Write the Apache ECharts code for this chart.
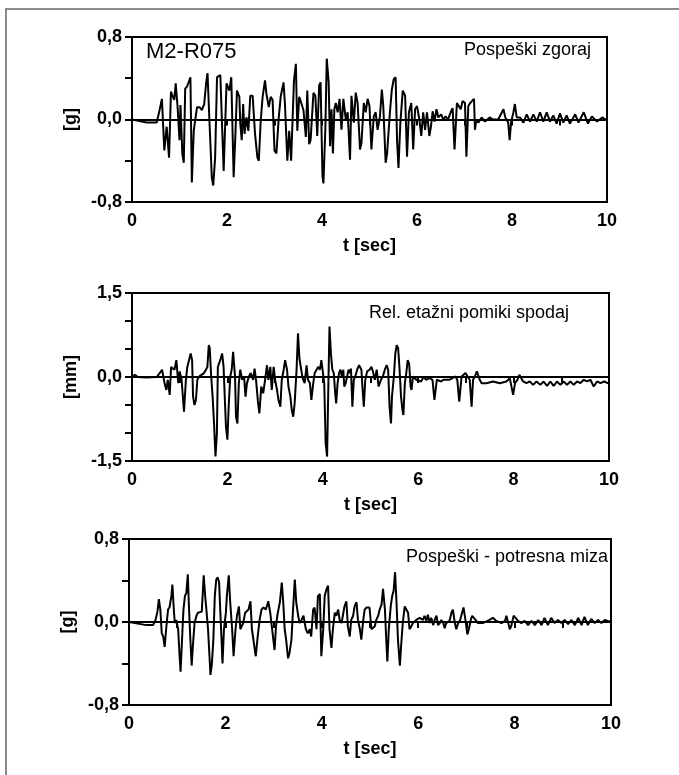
<!DOCTYPE html>
<html>
<head>
<meta charset="utf-8">
<script src="https://cdn.jsdelivr.net/npm/echarts@6/dist/echarts.min.js"></script>
<style>html,body{margin:0;padding:0;background:#fff}#c{width:679px;height:775px}</style>
</head>
<body>
<div id="c"></div>
<script>
// Time axis ticks (s)
const timeTicks = [0, 2, 4, 6, 8, 10];
// Panel titles
const titles = ['Pospeški zgoraj', 'Rel. etažni pomiki spodaj', 'Pospeški - potresna miza'];
const specimen = 'M2-R075';
// Panel 1: accelerations at top [g] -> [t, value]
const accTop = [
[0,0],[0.31,-0.03],[0.52,-0.03],[0.58,0.09],[0.63,0.20],[0.68,-0.30],[0.73,-0.07],[0.78,-0.37],[0.82,0.27],[0.86,0.22],
[0.89,0.19],[0.92,0.35],[0.96,0.12],[1.00,-0.20],[1.02,0.14],[1.06,-0.33],[1.09,-0.42],[1.12,0.30],[1.16,0.32],[1.20,0.33],
[1.23,0.41],[1.26,-0.61],[1.30,-0.11],[1.32,-0.04],[1.37,0.12],[1.42,0.12],[1.47,0.09],[1.52,0.15],[1.56,0.35],[1.59,0.45],
[1.63,-0.01],[1.68,-0.56],[1.71,-0.64],[1.75,-0.37],[1.79,0.41],[1.83,0.42],[1.86,0.43],[1.90,-0.11],[1.93,-0.50],[1.99,0.35],
[2.02,0.35],[2.05,0.28],[2.09,0.41],[2.14,-0.56],[2.18,-0.11],[2.21,0.28],[2.26,0.22],[2.28,-0.04],[2.31,-0.20],[2.34,0.15],
[2.37,-0.14],[2.41,0.02],[2.45,-0.11],[2.49,0.23],[2.54,0.23],[2.59,-0.14],[2.64,-0.37],[2.67,-0.40],[2.71,-0.01],[2.75,0.22],
[2.80,0.38],[2.83,0.25],[2.88,0.12],[2.92,0.22],[2.96,0.19],[3.00,-0.30],[3.04,-0.33],[3.09,0.02],[3.13,0.22],[3.19,0.36],
[3.22,0.15],[3.27,-0.40],[3.31,-0.11],[3.35,-0.40],[3.41,0.38],[3.45,0.54],[3.48,-0.11],[3.52,0.22],[3.57,0.15],[3.61,0.09],
[3.66,-0.17],[3.69,0.28],[3.73,-0.24],
[3.76,-0.20],[3.82,0.26],[3.86,0.23],[3.90,-0.16],[3.94,0.33],[3.97,0.36],[4.01,-0.55],[4.03,-0.62],[4.07,-0.10],[4.10,0.59],
[4.14,0.36],[4.17,-0.26],[4.20,0.10],[4.23,-0.33],[4.26,0.10],[4.29,0.16],[4.33,0.07],[4.37,0.20],[4.41,-0.10],[4.45,0.20],
[4.50,0],[4.54,0.07],[4.59,-0.39],[4.62,0.23],[4.67,-0.03],[4.71,0.26],[4.75,0.16],[4.80,-0.29],[4.83,-0.23],[4.88,0.16],
[4.92,0.07],[4.96,0.20],[5.00,0.13],[5.04,-0.29],[5.09,0.03],[5.13,0.07],[5.17,-0.10],[5.22,0.03],[5.26,0.29],[5.29,0.13],
[5.34,-0.42],[5.37,-0.33],[5.43,0.07],[5.47,0.29],[5.51,0.39],[5.55,0.41],[5.58,-0.20],[5.61,-0.47],[5.65,-0.03],[5.70,0.28],
[5.75,0.23],[5.79,-0.36],[5.83,0.07],[5.88,0.16],[5.92,-0.29],[5.96,0.10],[6.00,0.13],[6.05,0],[6.09,-0.16],[6.13,0.07],
[6.17,-0.10],[6.21,0.07],[6.26,-0.16],[6.29,-0.08],[6.33,0.08],[6.37,-0.02],[6.41,0.10],[6.45,0.02],[6.51,0.05],[6.55,0],
[6.60,0.03],[6.65,0],[6.71,0.07],[6.75,0.11],[6.79,-0.29],[6.84,0.16],[6.88,0.16],[6.92,0.10],[6.96,0.18],[7.01,0.16],
[7.04,-0.36],[7.08,0.13],[7.12,0.16],[7.16,0.18],[7.20,0.20],[7.22,-0.10],[7.25,0],[7.29,-0.03],[7.36,0.02],[7.43,-0.02],
[7.53,0.02],[7.60,0],[7.71,0],[7.82,0.10],[7.86,0.02],[7.92,-0.03],[7.95,-0.20],[7.98,-0.03],[8.03,0.07],[8.06,0.15],
[8.10,0.02],[8.17,0.02],[8.24,-0.03],[8.31,0.05],[8.38,-0.02],[8.45,0.05],[8.52,-0.02],[8.59,0.07],[8.66,-0.02],[8.73,0.07],
[8.80,-0.02],[8.87,0.04],[8.94,-0.04],[9.01,0.06],[9.08,-0.03],[9.15,0.04],[9.22,-0.04],[9.33,0.05],[9.40,-0.03],[9.51,0.07],
[9.60,-0.04],[9.68,0.03],[9.79,-0.02],[9.90,0.02],[10.0,-0.01]
];
// Panel 2: relative storey displacements bottom [mm]
const dispBottom = [
[0,0],[0.06,0.04],[0.12,0],[0.30,-0.01],[0.52,0],[0.58,0.07],[0.63,0.13],[0.66,0.15],[0.69,-0.14],[0.72,-0.23],
[0.75,-0.05],[0.79,-0.32],[0.82,0.18],[0.86,0.21],[0.89,0.13],[0.93,0.30],[0.97,-0.11],[1.00,0.10],[1.04,-0.05],[1.09,-0.62],
[1.13,-0.05],[1.16,0.18],[1.19,0.21],[1.23,0.42],[1.26,0.30],[1.28,-0.35],[1.31,-0.50],[1.34,-0.41],[1.37,-0.05],[1.41,0.01],
[1.45,0.04],[1.51,0.07],[1.55,0.13],[1.58,0.18],[1.61,0.57],[1.63,0.51],[1.66,0.01],[1.69,-0.35],[1.72,-0.83],[1.75,-1.42],
[1.78,-1.01],[1.80,0.18],[1.85,0.30],[1.89,0.42],[1.92,0.18],[1.95,-0.47],[1.97,-0.89],[2.00,-1.12],[2.03,-0.47],[2.06,0.01],
[2.09,0.13],[2.12,0.45],[2.16,0.01],[2.18,-0.71],[2.21,-0.83],[2.24,-0.11],[2.27,0.13],[2.31,-0.05],[2.35,0.01],[2.38,-0.35],
[2.41,-0.11],[2.45,0.01],[2.49,0.07],[2.54,-0.05],[2.57,0.15],[2.60,-0.05],[2.64,-0.44],[2.67,-0.65],[2.71,-0.17],[2.75,-0.29],
[2.79,-0.05],[2.83,0.21],[2.86,-0.05],[2.90,0.18],[2.93,-0.23],[2.97,0.18],[3.00,-0.05],[3.04,-0.23],[3.07,-0.41],[3.11,-0.53],
[3.14,-0.05],[3.18,0.13],[3.21,0.30],[3.25,0.13],[3.28,-0.17],[3.32,-0.35],[3.35,-0.59],[3.38,-0.71],[3.41,-0.47],[3.45,0.13],
[3.48,0.78],[3.51,0.33],[3.54,0.36],[3.57,0.01],[3.59,-0.05],[3.62,-0.11],[3.66,0.21],[3.69,-0.05],[3.73,-0.11],
[3.76,-0.41],[3.80,-0.11],[3.83,0.07],[3.87,0.13],[3.90,0.18],[3.94,0.13],[3.97,0.30],[4.00,0.33],[4.03,-0.11],[4.06,-1.18],
[4.09,-1.42],[4.12,0.01],[4.14,0.90],[4.17,0.42],[4.20,0.13],[4.23,0.07],[4.26,-0.29],[4.28,-0.47],[4.31,-0.11],[4.34,0.07],
[4.37,0.13],[4.40,0.01],[4.43,0.13],[4.45,-0.17],[4.48,-0.11],[4.51,0.01],[4.54,0.13],[4.57,0.07],[4.59,0.15],[4.62,-0.53],
[4.65,-0.05],[4.68,0.01],[4.72,0.13],[4.76,0.21],[4.81,0.13],[4.83,-0.17],[4.86,-0.53],[4.89,-0.05],[4.93,0.10],[4.98,0.13],
[5.02,0.18],[5.05,0.10],[5.09,-0.05],[5.13,0.13],[5.17,-0.17],[5.22,-0.05],[5.26,0.01],[5.30,0.13],[5.34,0.21],[5.37,0.13],
[5.40,-0.53],[5.43,-0.83],[5.45,-0.35],[5.49,0.01],[5.52,0.42],[5.55,0.57],[5.58,0.51],[5.61,0.13],[5.64,-0.35],[5.67,-0.59],
[5.69,-0.68],[5.72,-0.11],[5.75,0.07],[5.78,0.30],[5.81,0.24],[5.84,-0.17],[5.86,-0.23],[5.89,0.01],[5.92,0.01],[5.96,-0.05],
[6.00,-0.02],[6.06,-0.08],[6.12,0.01],[6.16,-0.05],[6.20,-0.05],[6.24,-0.02],[6.30,-0.05],[6.34,-0.41],[6.39,-0.05],[6.43,-0.02],
[6.48,-0.08],[6.53,-0.05],[6.58,-0.05],[6.65,-0.05],[6.72,-0.02],[6.78,0.01],[6.82,-0.05],[6.86,-0.44],[6.91,0.01],[6.95,0.04],
[6.99,0.07],[7.03,0.10],[7.08,-0.05],[7.12,-0.53],[7.15,-0.05],[7.19,0.01],[7.23,0.10],[7.26,0.13],[7.29,-0.05],[7.33,-0.11],
[7.43,-0.11],[7.57,-0.08],[7.71,-0.11],[7.85,-0.08],[7.92,-0.02],[7.96,0.01],[7.99,-0.32],[8.03,-0.11],[8.08,-0.05],[8.12,0.04],
[8.15,0.01],[8.20,-0.08],[8.27,-0.11],[8.34,-0.08],[8.41,-0.14],[8.48,-0.08],[8.56,-0.14],[8.63,-0.08],[8.70,-0.16],[8.77,-0.08],
[8.84,-0.16],[8.91,-0.08],[8.98,-0.14],[9.05,-0.08],[9.12,-0.14],[9.19,-0.08],[9.26,-0.14],[9.33,-0.08],[9.40,-0.11],[9.47,-0.05],
[9.54,-0.08],[9.61,-0.05],[9.68,-0.17],[9.75,-0.08],[9.82,-0.11],[9.90,-0.08],[9.97,-0.11],[10.0,-0.10]
];
// Panel 3: shaking table accelerations [g]
const accTable = [
[0,0],[0.36,-0.03],[0.50,-0.03],[0.55,0.02],[0.59,0.10],[0.62,0.22],[0.65,0.12],[0.68,-0.11],[0.71,-0.14],[0.74,-0.24],
[0.77,-0.07],[0.81,0.12],[0.84,0.14],[0.88,0.25],[0.90,0.36],[0.93,0.12],[0.95,-0.01],[0.98,0.02],[1.02,-0.07],[1.05,-0.33],
[1.07,-0.48],[1.11,-0.07],[1.13,0.12],[1.16,0.25],[1.19,0.28],[1.22,0.46],[1.24,0.19],[1.27,-0.14],[1.30,-0.42],[1.33,-0.20],
[1.36,-0.01],[1.40,0.06],[1.43,0.09],[1.47,0.10],[1.51,0.10],[1.55,0.45],[1.58,0.25],[1.60,0.15],[1.64,-0.07],[1.67,-0.33],
[1.69,-0.51],[1.72,-0.40],[1.75,-0.17],[1.78,0.25],[1.81,0.41],[1.84,0.43],[1.87,0.38],[1.89,0.15],[1.92,-0.17],[1.94,-0.40],
[1.97,-0.07],[2.01,0.09],[2.03,0.25],[2.07,0.45],[2.10,0.19],[2.14,-0.07],[2.17,-0.33],[2.21,-0.07],[2.24,0.06],[2.28,0.15],
[2.31,-0.07],[2.34,-0.04],[2.37,-0.01],[2.41,0.09],[2.45,0.09],[2.48,0.12],[2.52,0.20],[2.55,-0.07],[2.59,-0.07],[2.63,-0.33],
[2.67,-0.14],[2.71,0.02],[2.75,0.12],[2.79,0.14],[2.84,0.12],[2.89,0.20],[2.93,0.09],[2.97,-0.07],[3.02,-0.27],[3.05,-0.04],
[3.08,0.07],[3.13,0.19],[3.17,0.38],[3.20,0.19],[3.23,-0.07],[3.26,-0.17],[3.30,-0.35],[3.33,-0.30],[3.37,-0.17],[3.40,0.09],
[3.44,0.41],[3.47,0.19],[3.51,0.06],[3.54,-0.01],[3.58,0.02],[3.62,0.06],[3.67,-0.07],[3.71,-0.11],
[3.75,-0.07],[3.78,-0.14],[3.82,0.12],[3.85,0.14],[3.89,-0.07],[3.92,0.25],[3.96,0.27],[3.99,-0.33],[4.03,-0.07],[4.06,0.25],
[4.10,0.32],[4.13,0.35],[4.16,-0.07],[4.20,-0.25],[4.23,-0.07],[4.27,0.09],[4.30,0.06],[4.34,0.12],[4.37,0.02],[4.41,-0.01],
[4.44,0.07],[4.47,0.15],[4.51,0.20],[4.54,-0.04],[4.58,-0.14],[4.61,0.02],[4.65,0.06],[4.68,0.15],[4.72,0.19],[4.75,0.02],
[4.79,-0.07],[4.82,-0.17],[4.86,0.02],[4.89,0.12],[4.93,0.14],[4.96,0.15],[4.99,0.14],[5.03,-0.07],[5.06,-0.07],[5.10,-0.04],
[5.13,0.02],[5.17,0.06],[5.20,0.12],[5.24,0.17],[5.27,0.32],[5.31,0.12],[5.34,-0.20],[5.36,-0.38],[5.39,-0.07],[5.43,0.15],
[5.46,0.25],[5.49,0.30],[5.52,0.48],[5.55,0.19],[5.58,-0.17],[5.62,-0.42],[5.65,-0.20],[5.68,-0.01],[5.72,0.15],[5.76,0.15],
[5.79,0.09],[5.82,-0.07],[5.86,-0.04],[5.89,-0.01],[5.96,0.02],[6.03,0.04],[6.10,0.02],[6.13,0.06],[6.17,0.01],[6.20,0.07],
[6.24,-0.01],[6.27,0.04],[6.31,-0.03],[6.34,0.02],[6.38,0.06],[6.41,-0.03],[6.45,-0.01],[6.48,0.02],[6.52,-0.01],[6.55,-0.06],
[6.58,-0.01],[6.65,0.01],[6.69,0.09],[6.72,0.12],[6.76,-0.01],[6.79,-0.07],[6.83,-0.01],[6.87,0.02],[6.91,0.09],[6.94,0.14],
[6.98,0.02],[7.02,-0.12],[7.05,-0.07],[7.09,0.02],[7.12,0.06],[7.16,0.07],[7.19,0.02],[7.24,-0.01],[7.34,-0.01],[7.48,0.02],
[7.55,0.04],[7.62,0.01],[7.73,-0.01],[7.80,0.01],[7.83,0.06],[7.86,0.07],[7.90,-0.07],[7.93,-0.04],[7.98,0.06],[8.02,0.04],
[8.07,0.01],[8.14,-0.01],[8.21,0.01],[8.28,-0.03],[8.35,0.01],[8.42,-0.03],[8.49,0.02],[8.56,-0.03],[8.62,0.04],[8.69,-0.03],
[8.76,0.04],[8.83,-0.01],[8.90,0.02],[8.97,-0.01],[9.04,0.02],[9.11,-0.02],[9.18,0.02],[9.25,-0.03],[9.32,0.04],[9.39,-0.03],
[9.45,0.05],[9.52,-0.03],[9.59,0.03],[9.66,-0.01],[9.73,0.02],[9.80,-0.01],[9.87,0.02],[10.0,0]
];
// Axis ranges: [min, max, interval]
const yRanges = [[-0.8, 0.8, 0.4], [-1.5, 1.5, 0.5], [-0.8, 0.8, 0.4]];
const yNames = ['[g]', '[mm]', '[g]'];
const seriesData = [accTop, dispBottom, accTable];

const FONT = '"Liberation Sans", Arial, sans-serif';
const grids = [
  {left: 132, top: 37, width: 475, height: 165},
  {left: 132, top: 293, width: 477, height: 168},
  {left: 129, top: 539, width: 482, height: 166}
];
const chart = echarts.init(document.getElementById('c'), null, {renderer: 'canvas'});
const fmtY = (max) => (v) => {
  if (Math.abs(v) < 1e-9) return '0,0';
  if (Math.abs(Math.abs(v) - max) < 1e-6) return (v < 0 ? '-' : '') + max.toFixed(1).replace('.', ',');
  return '';
};
const option = {
  animation: false,
  backgroundColor: '#fff',
  grid: grids.map(g => Object.assign({show: true, borderColor: '#000', borderWidth: 2, backgroundColor: 'transparent', containLabel: false}, g)),
  xAxis: grids.map((g, i) => ({
    type: 'value', gridIndex: i, min: 0, max: 10, interval: 1,
    axisLine: {show: true, lineStyle: {color: '#000', width: 2}},
    axisTick: {show: true, length: 6, inside: false, lineStyle: {color: '#000', width: 2}},
    splitLine: {show: false},
    axisLabel: {
      color: '#000', fontSize: 18, fontWeight: 'bold', fontFamily: FONT, margin: 10,
      formatter: v => timeTicks.indexOf(Math.round(v * 1000) / 1000) >= 0 ? String(Math.round(v)) : ''
    },
    name: 't [sec]', nameLocation: 'middle', nameGap: 35,
    nameTextStyle: {color: '#000', fontSize: 18, fontWeight: 'bold', fontFamily: FONT}
  })),
  yAxis: grids.map((g, i) => ({
    type: 'value', gridIndex: i, min: yRanges[i][0], max: yRanges[i][1], interval: yRanges[i][2],
    axisLine: {show: true, lineStyle: {color: '#000', width: 2}},
    axisTick: {show: true, length: 7, inside: false, lineStyle: {color: '#000', width: 2}},
    splitLine: {show: false},
    axisLabel: {color: '#000', fontSize: 18, fontWeight: 'bold', fontFamily: FONT, margin: 10, formatter: fmtY(yRanges[i][1])},
    name: yNames[i], nameLocation: 'middle', nameRotate: 90, nameGap: 30,
    nameTextStyle: {color: '#000', fontSize: 18, fontWeight: 'bold', fontFamily: FONT}
  })),
  series: seriesData.map((d, i) => ({
    type: 'line', xAxisIndex: i, yAxisIndex: i, data: d, showSymbol: false, symbol: 'none',
    lineStyle: {color: '#000', width: 2}, z: 3,
    markLine: {silent: true, symbol: 'none', label: {show: false}, animation: false,
      lineStyle: {color: '#000', width: 2, type: 'solid'}, data: [{yAxis: 0}]}
  })),
  graphic: [
    {type: 'rect', shape: {x: 6, y: 9, width: 720, height: 820}, style: {fill: 'none', stroke: '#666', lineWidth: 1.5}, silent: true},
    {type: 'text', left: 146, top: 41, style: {text: specimen, font: '22px ' + FONT, fill: '#000'}},
    {type: 'text', right: 679 - 591, top: 41, style: {text: titles[0], font: '18px ' + FONT, fill: '#000'}},
    {type: 'text', right: 679 - 569, top: 304, style: {text: titles[1], font: '18px ' + FONT, fill: '#000'}},
    {type: 'text', right: 679 - 608, top: 548, style: {text: titles[2], font: '18px ' + FONT, fill: '#000'}}
  ]
};
chart.setOption(option);
</script>
</body>
</html>
